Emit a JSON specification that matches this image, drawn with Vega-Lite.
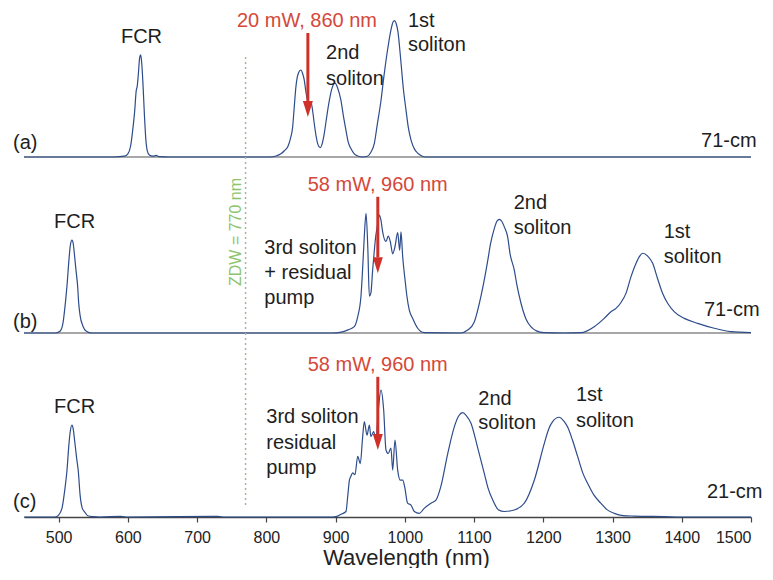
{
  "$schema": "https://vega.github.io/schema/vega-lite/v6.json",
  "padding": {"left": 12, "top": 0, "right": 0, "bottom": 0},
  "spacing": 0,
  "bounds": "flush",
  "config": {"view": {"stroke": null}, "font": "Liberation Sans"},
  "datasets": {
    "specA": [
      {"wl":450,"I":0},{"wl":580,"I":0},{"wl":595,"I":0.005},{"wl":600,"I":0.02},{"wl":604,"I":0.07},{"wl":607,"I":0.17},{"wl":610,"I":0.3},{"wl":612,"I":0.42},{"wl":613.5,"I":0.45},{"wl":615,"I":0.52},{"wl":617,"I":0.63},{"wl":618.5,"I":0.65},{"wl":620,"I":0.6},{"wl":622,"I":0.45},{"wl":624,"I":0.26},{"wl":626,"I":0.11},{"wl":628,"I":0.04},{"wl":631,"I":0.012},{"wl":636,"I":0.005},{"wl":641,"I":0.01},{"wl":645,"I":0.002},{"wl":660,"I":0},
      {"wl":805,"I":0},{"wl":815,"I":0.008},{"wl":821,"I":0.02},{"wl":826,"I":0.04},{"wl":831,"I":0.066},{"wl":835,"I":0.12},{"wl":838,"I":0.19},{"wl":840,"I":0.3},{"wl":842.8,"I":0.45},{"wl":846,"I":0.53},{"wl":850,"I":0.554},{"wl":852.5,"I":0.53},{"wl":854.8,"I":0.49},{"wl":857,"I":0.42},{"wl":859.7,"I":0.36},{"wl":862,"I":0.345},{"wl":864.5,"I":0.35},{"wl":867,"I":0.29},{"wl":869.3,"I":0.21},{"wl":872,"I":0.13},{"wl":874,"I":0.087},{"wl":878,"I":0.06},{"wl":881,"I":0.09},{"wl":883.7,"I":0.15},{"wl":887,"I":0.25},{"wl":891,"I":0.36},{"wl":895,"I":0.44},{"wl":899,"I":0.47},{"wl":903,"I":0.44},{"wl":907.8,"I":0.36},{"wl":911,"I":0.27},{"wl":915,"I":0.17},{"wl":918,"I":0.1},{"wl":922,"I":0.055},{"wl":927,"I":0.02},{"wl":932,"I":0.006},{"wl":939,"I":0},{"wl":946,"I":0.005},{"wl":951,"I":0.03},{"wl":956,"I":0.087},{"wl":960,"I":0.2},{"wl":965.6,"I":0.36},{"wl":970,"I":0.52},{"wl":975,"I":0.68},{"wl":980,"I":0.81},{"wl":983,"I":0.86},{"wl":985,"I":0.868},{"wl":987.5,"I":0.85},{"wl":990,"I":0.8},{"wl":994.5,"I":0.6},{"wl":998,"I":0.43},{"wl":1001.7,"I":0.3},{"wl":1005,"I":0.19},{"wl":1009,"I":0.108},{"wl":1014,"I":0.05},{"wl":1018.6,"I":0.025},{"wl":1024,"I":0.008},{"wl":1030,"I":0},{"wl":1500,"I":0}
    ],
    "specB": [
      {"wl":450,"I":0},{"wl":495,"I":0},{"wl":502,"I":0.01},{"wl":506,"I":0.05},{"wl":510,"I":0.18},{"wl":512,"I":0.264},{"wl":515,"I":0.42},{"wl":517,"I":0.5},{"wl":519.3,"I":0.528},{"wl":521,"I":0.51},{"wl":523,"I":0.44},{"wl":525,"I":0.36},{"wl":527.5,"I":0.264},{"wl":529,"I":0.17},{"wl":531,"I":0.1},{"wl":535,"I":0.04},{"wl":540,"I":0.01},{"wl":548,"I":0},
      {"wl":895,"I":0},{"wl":908,"I":0.005},{"wl":918,"I":0.018},{"wl":927,"I":0.036},{"wl":932,"I":0.093},{"wl":936.7,"I":0.21},{"wl":939,"I":0.36},{"wl":941.5,"I":0.55},{"wl":944,"I":0.68},{"wl":946.5,"I":0.49},{"wl":948.8,"I":0.21},{"wl":951,"I":0.227},{"wl":953.6,"I":0.36},{"wl":956,"I":0.47},{"wl":958,"I":0.55},{"wl":960,"I":0.6},{"wl":963.2,"I":0.67},{"wl":965.6,"I":0.64},{"wl":968,"I":0.575},{"wl":972.8,"I":0.52},{"wl":976,"I":0.55},{"wl":979,"I":0.52},{"wl":982.5,"I":0.45},{"wl":985.8,"I":0.49},{"wl":989.7,"I":0.57},{"wl":992.6,"I":0.47},{"wl":994.5,"I":0.575},{"wl":997,"I":0.43},{"wl":1000.4,"I":0.3},{"wl":1003,"I":0.21},{"wl":1006.5,"I":0.13},{"wl":1011.4,"I":0.083},{"wl":1018.6,"I":0.027},{"wl":1028,"I":0.002},
      {"wl":1080,"I":0},{"wl":1090.8,"I":0.017},{"wl":1100,"I":0.06},{"wl":1110,"I":0.21},{"wl":1115.8,"I":0.323},{"wl":1119.7,"I":0.41},{"wl":1124,"I":0.51},{"wl":1129,"I":0.59},{"wl":1133,"I":0.635},{"wl":1136.5,"I":0.646},{"wl":1140,"I":0.635},{"wl":1144,"I":0.6},{"wl":1148.6,"I":0.545},{"wl":1152,"I":0.45},{"wl":1158,"I":0.36},{"wl":1162,"I":0.27},{"wl":1167.8,"I":0.169},{"wl":1175,"I":0.08},{"wl":1182,"I":0.036},{"wl":1190,"I":0.012},{"wl":1201,"I":0.002},{"wl":1230,"I":0},
      {"wl":1254.5,"I":0.002},{"wl":1273.6,"I":0.036},{"wl":1288,"I":0.083},{"wl":1297.7,"I":0.121},{"wl":1305,"I":0.14},{"wl":1312,"I":0.172},{"wl":1319.4,"I":0.225},{"wl":1326.7,"I":0.32},{"wl":1334,"I":0.396},{"wl":1339,"I":0.435},{"wl":1343.5,"I":0.453},{"wl":1350.8,"I":0.437},{"wl":1358,"I":0.396},{"wl":1365,"I":0.31},{"wl":1372.4,"I":0.225},{"wl":1379.6,"I":0.169},{"wl":1389,"I":0.121},{"wl":1403.6,"I":0.083},{"wl":1423,"I":0.055},{"wl":1447,"I":0.027},{"wl":1471,"I":0.008},{"wl":1500,"I":0.002}
    ],
    "specC": [
      {"wl":450,"I":0},{"wl":495,"I":0},{"wl":500,"I":0.01},{"wl":505,"I":0.05},{"wl":509,"I":0.15},{"wl":512,"I":0.25},{"wl":515,"I":0.4},{"wl":517,"I":0.47},{"wl":519.3,"I":0.5},{"wl":521,"I":0.48},{"wl":523,"I":0.42},{"wl":526,"I":0.32},{"wl":528.4,"I":0.25},{"wl":531,"I":0.12},{"wl":534,"I":0.05},{"wl":538,"I":0.025},{"wl":542,"I":0.007},{"wl":550,"I":0.002},{"wl":560,"I":0},{"wl":590,"I":0.003},{"wl":600,"I":0},{"wl":730,"I":0.003},{"wl":740,"I":0},
      {"wl":895,"I":0},{"wl":903,"I":0.005},{"wl":908,"I":0.015},{"wl":915,"I":0.03},{"wl":917.5,"I":0.11},{"wl":920,"I":0.2},{"wl":922,"I":0.22},{"wl":924.7,"I":0.24},{"wl":928,"I":0.23},{"wl":932,"I":0.33},{"wl":935.7,"I":0.29},{"wl":939,"I":0.43},{"wl":941.5,"I":0.518},{"wl":945.4,"I":0.445},{"wl":948.8,"I":0.5},{"wl":951,"I":0.437},{"wl":955,"I":0.464},{"wl":958.4,"I":0.418},{"wl":961.7,"I":0.58},{"wl":965.6,"I":0.69},{"wl":969.5,"I":0.58},{"wl":972.8,"I":0.364},{"wl":976,"I":0.345},{"wl":980,"I":0.375},{"wl":982.5,"I":0.255},{"wl":985.8,"I":0.418},{"wl":989.7,"I":0.255},{"wl":993.5,"I":0.2},{"wl":997,"I":0.2},{"wl":1000,"I":0.16},{"wl":1004,"I":0.075},{"wl":1009,"I":0.065},{"wl":1013.7,"I":0.03},{"wl":1021,"I":0.02},{"wl":1028,"I":0.047},{"wl":1037.8,"I":0.075},{"wl":1045,"I":0.092},{"wl":1052,"I":0.165},{"wl":1062,"I":0.345},{"wl":1071.5,"I":0.49},{"wl":1078,"I":0.55},{"wl":1083.6,"I":0.567},{"wl":1089,"I":0.55},{"wl":1095.6,"I":0.51},{"wl":1105,"I":0.38},{"wl":1114.8,"I":0.237},{"wl":1120,"I":0.16},{"wl":1127,"I":0.092},{"wl":1135,"I":0.04},{"wl":1143.7,"I":0.03},{"wl":1158,"I":0.038},{"wl":1172.6,"I":0.075},{"wl":1187,"I":0.2},{"wl":1201.5,"I":0.4},{"wl":1208,"I":0.48},{"wl":1213.5,"I":0.518},{"wl":1222.8,"I":0.542},{"wl":1230,"I":0.52},{"wl":1235,"I":0.49},{"wl":1242,"I":0.42},{"wl":1249.7,"I":0.328},{"wl":1257,"I":0.24},{"wl":1264,"I":0.183},{"wl":1273,"I":0.12},{"wl":1283,"I":0.075},{"wl":1292,"I":0.04},{"wl":1302.5,"I":0.02},{"wl":1315,"I":0.008},{"wl":1331,"I":0.005},{"wl":1374.7,"I":0.002},{"wl":1400,"I":0},{"wl":1500,"I":0}
    ],
    "labelsA": [
      {"wl":590,"level":0.764,"label":"FCR"},
      {"wl":886.2,"level":0.66,"label":"2nd"},
      {"wl":886.2,"level":0.5,"label":"soliton"},
      {"wl":1004.6,"level":0.866,"label":"1st"},
      {"wl":1004.6,"level":0.713,"label":"soliton"},
      {"wl":434.1,"level":0.089,"label":"(a)"},
      {"wl":1427.8,"level":0.102,"label":"71-cm"}
    ],
    "labelsB": [
      {"wl":493.3,"level":0.632,"label":"FCR"},
      {"wl":797,"level":0.481,"label":"3rd soliton"},
      {"wl":797,"level":0.339,"label":"+ residual"},
      {"wl":797,"level":0.197,"label":"pump"},
      {"wl":1157.2,"level":0.737,"label":"2nd"},
      {"wl":1157.2,"level":0.595,"label":"soliton"},
      {"wl":1373.9,"level":0.576,"label":"1st"},
      {"wl":1373.9,"level":0.43,"label":"soliton"},
      {"wl":434.1,"level":0.064,"label":"(b)"},
      {"wl":1432.1,"level":0.131,"label":"71-cm"}
    ],
    "labelsC": [
      {"wl":493.3,"level":0.599,"label":"FCR"},
      {"wl":799.9,"level":0.545,"label":"3rd soliton"},
      {"wl":799.9,"level":0.401,"label":"residual"},
      {"wl":799.9,"level":0.265,"label":"pump"},
      {"wl":1106.1,"level":0.64,"label":"2nd"},
      {"wl":1106.1,"level":0.509,"label":"soliton"},
      {"wl":1247.2,"level":0.663,"label":"1st"},
      {"wl":1247.2,"level":0.522,"label":"soliton"},
      {"wl":434.1,"level":0.083,"label":"(c)"},
      {"wl":1436.4,"level":0.1375,"label":"21-cm"}
    ],
    "pumpA": [{"wl":860,"top":0.79,"base":0.357,"tip":0.255,"textWl":757.6,"textLevel":0.866,"label":"20 mW, 860 nm"}],
    "pumpB": [{"wl":961,"top":0.774,"base":0.43,"tip":0.339,"textWl":859.7,"textLevel":0.841,"label":"58 mW, 960 nm"}],
    "pumpC": [{"wl":961,"top":0.762,"base":0.451,"tip":0.364,"textWl":859.7,"textLevel":0.826,"label":"58 mW, 960 nm"}]
  },
  "vconcat": [
    {
      "width": 727, "height": 157,
      "layer": [
        {"data": {"values": [{}]}, "mark": {"type": "rule", "color": "#8a8a8a", "strokeWidth": 1.5}, "encoding": {"y": {"datum": 0, "scale": {"domain": [0, 1]}, "axis": null}}},
        {"data": {"values": [{}]}, "mark": {"type": "rule", "color": "#a6b49a", "strokeWidth": 1.5, "strokeDash": [2, 3]}, "encoding": {"x": {"datum": 770, "axis": null}, "y": {"datum": 0.637, "axis": null}, "y2": {"datum": 0}}},
        {"data": {"name": "specA"}, "mark": {"type": "line", "color": "#2d4c8c", "strokeWidth": 1.2, "interpolate": "monotone"},
         "encoding": {"x": {"field": "wl", "type": "quantitative", "scale": {"domain": [450, 1500], "nice": false, "zero": false}, "axis": null},
                      "y": {"field": "I", "type": "quantitative", "scale": {"domain": [0, 1]}, "axis": null}}},
        {"data": {"name": "pumpA"}, "layer": [
          {"mark": {"type": "rule", "color": "#d0302a", "strokeWidth": 3}, "encoding": {"x": {"field": "wl", "type": "quantitative", "axis": null}, "y": {"field": "top", "type": "quantitative", "axis": null}, "y2": {"field": "base"}}},
          {"mark": {"type": "point", "shape": "M-1,-3.2L1,-3.2L0,0Z", "filled": true, "color": "#d0302a", "opacity": 1, "size": 100}, "encoding": {"x": {"field": "wl", "type": "quantitative", "axis": null}, "y": {"field": "tip", "type": "quantitative", "axis": null}}},
          {"mark": {"type": "text", "align": "left", "baseline": "middle", "fontSize": 20, "color": "#d4483a"}, "encoding": {"x": {"field": "textWl", "type": "quantitative", "axis": null}, "y": {"field": "textLevel", "type": "quantitative", "axis": null}, "text": {"field": "label"}}}
        ]},
        {"data": {"name": "labelsA"}, "mark": {"type": "text", "align": "left", "baseline": "middle", "fontSize": 20, "color": "#1e1e1e"},
         "encoding": {"x": {"field": "wl", "type": "quantitative", "axis": null}, "y": {"field": "level", "type": "quantitative", "axis": null}, "text": {"field": "label"}}}
      ]
    },
    {
      "width": 727, "height": 176,
      "layer": [
        {"data": {"values": [{}]}, "mark": {"type": "rule", "color": "#8a8a8a", "strokeWidth": 1.5}, "encoding": {"y": {"datum": 0, "scale": {"domain": [0, 1]}, "axis": null}}},
        {"data": {"values": [{}]}, "mark": {"type": "rule", "color": "#a6b49a", "strokeWidth": 1.5, "strokeDash": [2, 3]}, "encoding": {"x": {"datum": 770, "axis": null}, "y": {"datum": 1, "axis": null}, "y2": {"datum": 0}}},
        {"data": {"values": [{}]}, "mark": {"type": "text", "angle": 270, "align": "center", "baseline": "middle", "fontSize": 16, "color": "#8cc46c", "text": "ZDW = 770 nm"}, "encoding": {"x": {"datum": 756, "axis": null}, "y": {"datum": 0.574, "axis": null}}},
        {"data": {"name": "specB"}, "mark": {"type": "line", "color": "#2d4c8c", "strokeWidth": 1.2, "interpolate": "monotone"},
         "encoding": {"x": {"field": "wl", "type": "quantitative", "scale": {"domain": [450, 1500], "nice": false, "zero": false}, "axis": null},
                      "y": {"field": "I", "type": "quantitative", "scale": {"domain": [0, 1]}, "axis": null}}},
        {"data": {"name": "pumpB"}, "layer": [
          {"mark": {"type": "rule", "color": "#d0302a", "strokeWidth": 3}, "encoding": {"x": {"field": "wl", "type": "quantitative", "axis": null}, "y": {"field": "top", "type": "quantitative", "axis": null}, "y2": {"field": "base"}}},
          {"mark": {"type": "point", "shape": "M-1,-3.2L1,-3.2L0,0Z", "filled": true, "color": "#d0302a", "opacity": 1, "size": 100}, "encoding": {"x": {"field": "wl", "type": "quantitative", "axis": null}, "y": {"field": "tip", "type": "quantitative", "axis": null}}},
          {"mark": {"type": "text", "align": "left", "baseline": "middle", "fontSize": 20, "color": "#d4483a"}, "encoding": {"x": {"field": "textWl", "type": "quantitative", "axis": null}, "y": {"field": "textLevel", "type": "quantitative", "axis": null}, "text": {"field": "label"}}}
        ]},
        {"data": {"name": "labelsB"}, "mark": {"type": "text", "align": "left", "baseline": "middle", "fontSize": 20, "color": "#1e1e1e"},
         "encoding": {"x": {"field": "wl", "type": "quantitative", "axis": null}, "y": {"field": "level", "type": "quantitative", "axis": null}, "text": {"field": "label"}}}
      ]
    },
    {
      "width": 727, "height": 184,
      "layer": [
        {"data": {"values": [{}]}, "mark": {"type": "rule", "color": "#a6b49a", "strokeWidth": 1.5, "strokeDash": [2, 3]}, "encoding": {"x": {"datum": 770}, "y": {"datum": 1, "scale": {"domain": [0, 1]}, "axis": null}, "y2": {"datum": 0.054}}},
        {"data": {"name": "specC"}, "mark": {"type": "line", "color": "#2d4c8c", "strokeWidth": 1.2, "interpolate": "monotone"},
         "encoding": {"x": {"field": "wl", "type": "quantitative", "title": "Wavelength (nm)", "scale": {"domain": [450, 1500], "nice": false, "zero": false},
                            "axis": {"values": [500, 600, 700, 800, 900, 1000, 1100, 1200, 1300, 1400, 1500], "format": "d", "grid": false, "domainColor": "#444", "domainWidth": 1.5, "tickColor": "#444", "tickWidth": 1.2, "tickSize": 5, "labelFontSize": 16, "labelColor": "#222", "labelPadding": 7, "titleFontSize": 22, "titleFontWeight": "normal", "titleColor": "#222", "titlePadding": 2, "titleX": 382}},
                      "y": {"field": "I", "type": "quantitative", "scale": {"domain": [0, 1]}, "axis": null}}},
        {"data": {"name": "pumpC"}, "layer": [
          {"mark": {"type": "rule", "color": "#d0302a", "strokeWidth": 3}, "encoding": {"x": {"field": "wl", "type": "quantitative"}, "y": {"field": "top", "type": "quantitative", "axis": null}, "y2": {"field": "base"}}},
          {"mark": {"type": "point", "shape": "M-1,-3.2L1,-3.2L0,0Z", "filled": true, "color": "#d0302a", "opacity": 1, "size": 100}, "encoding": {"x": {"field": "wl", "type": "quantitative"}, "y": {"field": "tip", "type": "quantitative", "axis": null}}},
          {"mark": {"type": "text", "align": "left", "baseline": "middle", "fontSize": 20, "color": "#d4483a"}, "encoding": {"x": {"field": "textWl", "type": "quantitative"}, "y": {"field": "textLevel", "type": "quantitative", "axis": null}, "text": {"field": "label"}}}
        ]},
        {"data": {"name": "labelsC"}, "mark": {"type": "text", "align": "left", "baseline": "middle", "fontSize": 20, "color": "#1e1e1e"},
         "encoding": {"x": {"field": "wl", "type": "quantitative"}, "y": {"field": "level", "type": "quantitative", "axis": null}, "text": {"field": "label"}}}
      ]
    }
  ]
}
